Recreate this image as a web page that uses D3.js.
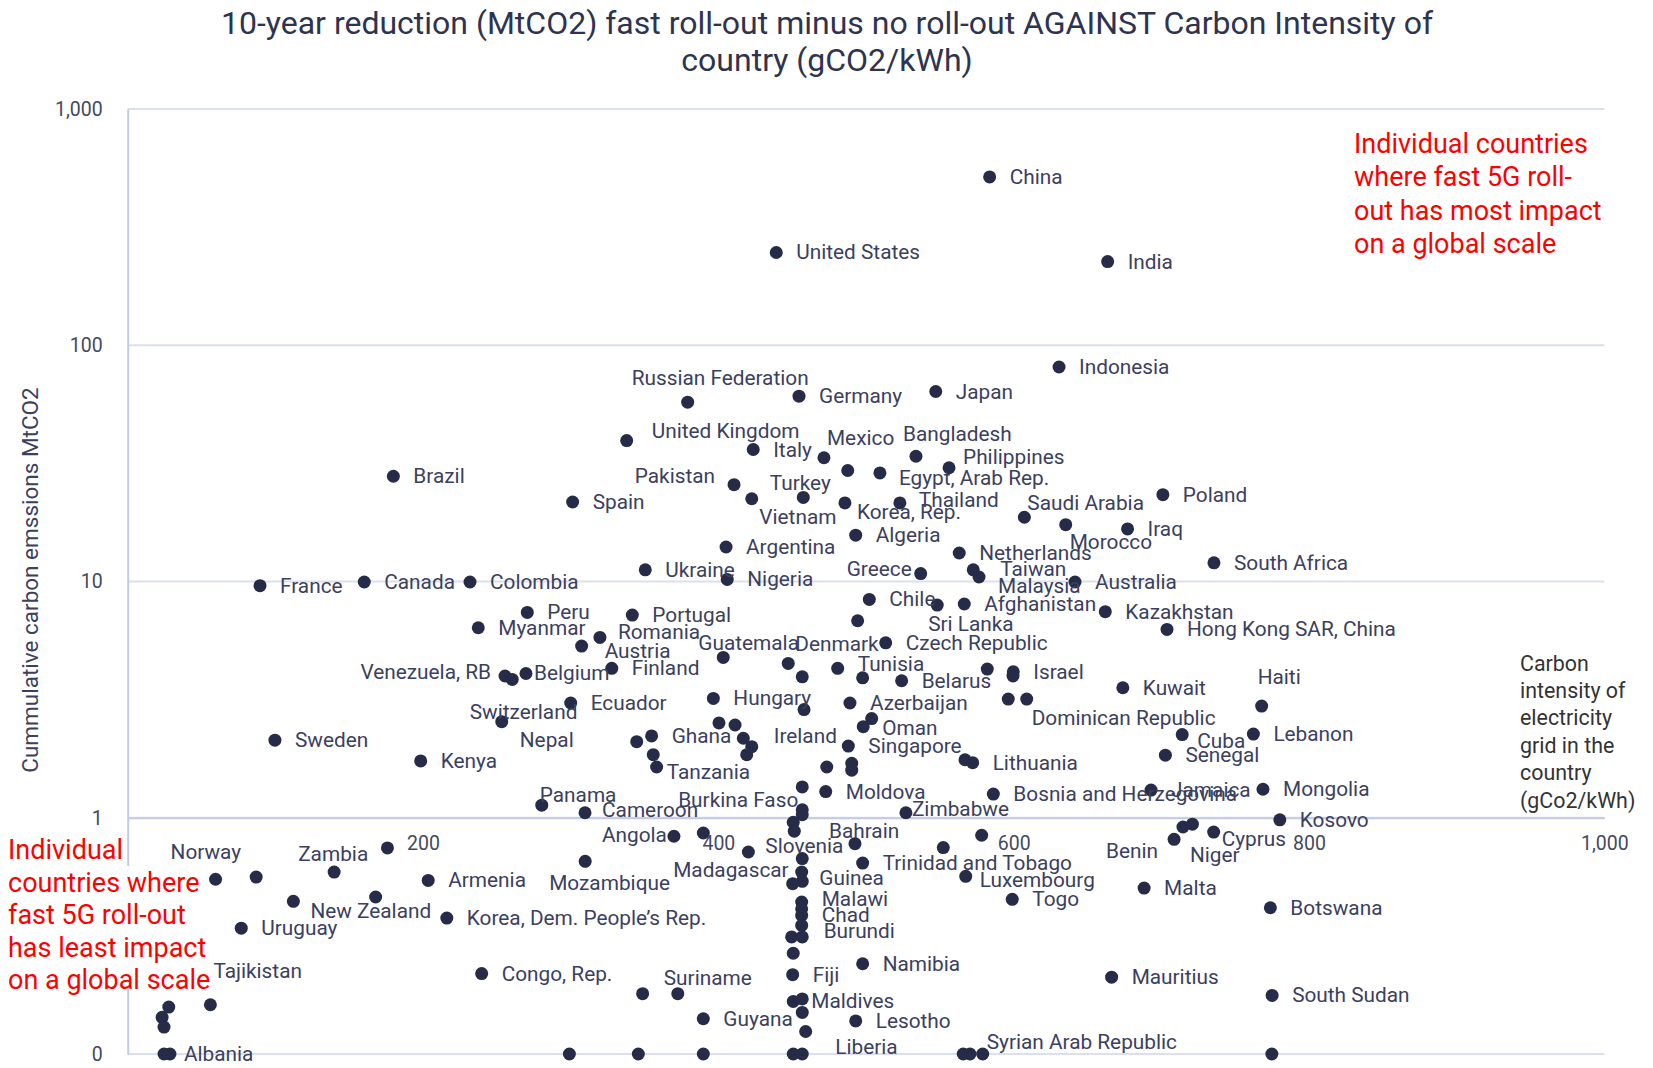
<!DOCTYPE html>
<html>
<head>
<meta charset="utf-8">
<script src="https://cdn.jsdelivr.net/npm/d3@7"></script>
<style>
  body { margin: 0; background: #fff; }
  svg { display: block; font-family: Roboto, "Noto Sans", sans-serif; }
</style>
</head>
<body>
<svg id="chart" width="1653" height="1068"></svg>
<script>
// country names ("" = point without a visible label)
const countries = [
  "China","United States","India","Indonesia","Russian Federation","Germany","Japan","United Kingdom","Italy","Mexico",
  "","Bangladesh","Philippines","Egypt, Arab Rep.","Pakistan","Turkey","Vietnam","Korea, Rep.","Thailand","Saudi Arabia",
  "Morocco","Iraq","Poland","South Africa","Algeria","Argentina","Netherlands","Ukraine","Nigeria","Greece",
  "Taiwan","Malaysia","Australia","Brazil","Spain","France","Canada","Colombia","Peru","Myanmar",
  "Romania","Austria","Finland","Venezuela, RB","","Belgium","Ecuador","Switzerland","Sweden","Kenya",
  "Panama","Cameroon","Portugal","Chile","Sri Lanka","Afghanistan","Denmark","Czech Republic","Guatemala","",
  "","Tunisia","","Belarus","","Israel","","Hungary","","Azerbaijan",
  "","Dominican Republic","","Oman","Ghana","Nepal","","Tanzania","","",
  "","Ireland","","Singapore","","","","","Lithuania","Burkina Faso",
  "Moldova","Bosnia and Herzegovina","","","Zimbabwe","","Kazakhstan","Hong Kong SAR, China","Kuwait","Haiti",
  "Cuba","Lebanon","Senegal","Jamaica","Mongolia","Kosovo","Niger","","Cyprus","Benin",
  "Malta","Botswana","Mauritius","South Sudan","","Norway","","Zambia","","Armenia",
  "Mozambique","New Zealand","","Korea, Dem. People\u2019s Rep.","Uruguay","Tajikistan","","","","",
  "Albania","Congo, Rep.","","Angola","","Slovenia","","","Madagascar","Guinea",
  "","Malawi","","Chad","Burundi","","","","Fiji","",
  "Maldives","","","","Liberia","Guyana","","Suriname","","",
  "Lesotho","Namibia","Bahrain","Trinidad and Tobago","","","Luxembourg","Togo","","",
  "Syrian Arab Republic"
];

// carbon intensity of the grid, gCO2/kWh
const intensity = [
  583.7,439.2,663.6,630.7,379.2,454.6,547.2,337.9,423.6,471.5,
  487.6,533.8,556.2,509.4,410.6,422.6,457.5,485.7,522.9,607.2,
  635.2,677.1,701.0,735.6,493.0,405.2,563.1,350.5,406.0,537.0,
  572.6,576.5,641.5,179.9,301.3,89.6,160.2,231.8,270.6,237.4,
  319.8,307.4,327.8,255.5,260.4,269.7,300.0,253.3,99.7,198.4,
  280.4,309.7,341.7,502.2,548.2,566.5,494.3,513.3,403.3,447.3,
  456.8,480.8,497.7,524.1,582.1,599.7,599.5,396.6,458.0,489.1,
  596.3,608.8,503.8,498.1,354.8,344.7,355.9,358.2,400.4,411.3,
  416.9,422.6,419.2,488.0,473.4,490.3,490.3,567.0,572.2,456.8,
  472.7,586.2,456.8,456.8,527.0,450.7,662.0,703.8,673.9,767.9,
  714.1,762.3,702.7,693.0,768.8,780.2,714.6,721.0,735.4,708.6,
  688.3,773.8,666.3,775.0,774.8,59.5,87.0,139.8,175.9,203.5,
  309.8,112.2,167.9,216.1,76.9,56.0,27.8,23.3,24.6,24.6,
  28.6,239.7,299.1,369.9,389.8,420.3,451.4,456.8,456.4,456.8,
  450.3,456.4,456.4,456.4,456.4,449.6,456.8,450.7,450.3,450.7,
  456.8,456.8,459.1,450.7,456.8,389.8,348.7,372.5,345.8,389.8,
  493.0,497.7,492.5,497.7,552.3,578.3,567.5,599.0,565.8,570.4,
  579.0
];

// cumulative carbon emissions reduction, MtCO2
const reduction = [
  516,247,226,80.9,57.4,60.9,63.7,39.5,36.2,33.4,
  29.5,33.9,30.3,28.8,25.7,22.4,22.7,21.5,21.5,18.7,
  17.4,16.7,23.3,12.0,15.7,14.0,13.2,11.2,10.2,10.8,
  11.2,10.45,9.95,27.9,21.7,9.6,9.95,9.95,7.4,6.37,
  5.8,5.33,4.29,3.98,3.85,4.08,3.06,2.55,2.13,1.74,
  1.13,1.05,7.21,8.4,7.95,8.03,6.82,5.5,4.77,4.5,
  3.95,4.29,3.91,3.8,4.26,4.15,3.98,3.2,2.87,3.06,
  3.18,3.18,2.63,2.43,2.22,2.1,1.85,1.64,2.52,2.47,
  2.17,2.0,1.85,2.01,1.64,1.70,1.59,1.76,1.71,1.35,
  1.29,1.26,1.08,1.03,1.05,0.957,7.45,6.27,3.55,2.97,
  2.25,2.26,1.84,1.31,1.32,0.98,0.914,0.939,0.87,0.81,
  0.504,0.416,0.2115,0.177,0.1,0.549,0.561,0.589,0.745,0.543,
  0.654,0.443,0.462,0.376,0.341,0.1616,0.158,0.143,0.130,0.1,
  0.1,0.219,0.1,0.835,0.862,0.716,0.877,0.672,0.589,0.538,
  0.526,0.44,0.412,0.386,0.35,0.313,0.313,0.267,0.2166,0.167,
  0.171,0.150,0.1245,0.1,0.1,0.141,0.18,0.18,0.1,0.1,
  0.138,0.241,0.777,0.643,0.748,0.843,0.565,0.4515,0.1,0.1,
  0.1
];

const xTicks = [200, 400, 600, 800, 1000];
const yTicks = [0.1, 1, 10, 100, 1000];
const yTickLabels = ["0", "1", "10", "100", "1,000"];

// where the hand-moved data labels sit: [dx, dy, anchor]
const labelPos = {
  "Russian Federation": [-56, -24], "United Kingdom": [25, -10], "Mexico": [3, -20],
  "Bangladesh": [-13, -22], "Philippines": [14, -11], "Egypt, Arab Rep.": [19, 5],
  "Pakistan": [-19, -9, "end"], "Turkey": [18, -16], "Vietnam": [-44, 20],
  "Korea, Rep.": [12, 9], "Thailand": [19, -3], "Saudi Arabia": [3, -14],
  "Morocco": [4, 17], "Greece": [-9, -5, "end"], "Taiwan": [27, -1], "Malaysia": [19, 9],
  "Venezuela, RB": [-14, -4, "end"], "Belgium": [8, 0], "Switzerland": [-32, -10],
  "Nepal": [-63, -2, "end"], "Panama": [-2, -10], "Cameroon": [17, -3],
  "Romania": [18, -5], "Austria": [23, 5], "Sri Lanka": [-9, 19],
  "Denmark": [21, 23, "end"], "Guatemala": [-25, -14], "Tunisia": [20, -4],
  "Dominican Republic": [5, 19], "Oman": [19, 1], "Tanzania": [10, 5],
  "Ireland": [22, -11], "Burkina Faso": [-4, 13, "end"], "Zimbabwe": [6, -4],
  "Haiti": [-4, -29], "Cuba": [15, 6], "Cyprus": [8, 7], "Benin": [-16, 12, "end"],
  "Niger": [7, 28], "Norway": [-45, -27], "Zambia": [-36, -18], "Mozambique": [-36, 22],
  "New Zealand": [17, 10], "Tajikistan": [3, -34], "Albania": [14, 0],
  "Angola": [-7, -1, "end"], "Slovenia": [17, -6], "Madagascar": [-13, -2, "end"],
  "Guinea": [17, -3], "Malawi": [20, -3], "Burundi": [22, 6], "Maldives": [9, 2],
  "Liberia": [33, -7], "Suriname": [-14, -16], "Bahrain": [-26, -13],
  "Luxembourg": [14, 4], "Syrian Arab Republic": [4, -12]
};

const points = countries.map((c, i) => ({ name: c, x: intensity[i], y: reduction[i] }));

const svg = d3.select("#chart");
const plotLeft = 127.7, plotRight = 1604.4, plotTop = 109, plotBottom = 1054;

const x = d3.scaleLinear().domain([0, 1000]).range([plotLeft, plotRight]);
const y = d3.scaleLog().domain([0.1, 1000]).range([plotBottom, plotTop]);

const axisColor = "#c4cae6", gridColor = "#dcdff0";
const textColor = "#3b4060";

// title
svg.append("text")
   .attr("text-anchor", "middle")
   .attr("font-size", "32px").attr("fill", "#2e3350")
   .selectAll("tspan")
   .data(["10-year reduction (MtCO2) fast roll-out minus no roll-out AGAINST Carbon Intensity of",
          "country (gCO2/kWh)"])
   .enter().append("tspan")
   .attr("x", 827).attr("y", (d, i) => 23 + i * 37)
   .attr("dominant-baseline", "central")
   .text(d => d);

// horizontal gridlines
svg.append("g").selectAll("line")
   .data(yTicks)
   .enter().append("line")
   .attr("x1", plotLeft).attr("x2", plotRight)
   .attr("y1", d => y(d)).attr("y2", d => y(d))
   .attr("stroke", gridColor).attr("stroke-width", 2);

// y axis
const yAxis = svg.append("g")
   .attr("transform", "translate(" + plotLeft + ",0)")
   .call(d3.axisLeft(y).tickValues(yTicks).tickFormat((d, i) => yTickLabels[i]).tickSize(0).tickPadding(25));
yAxis.select(".domain").attr("stroke", axisColor).attr("stroke-width", 2);
yAxis.selectAll("text").attr("font-size", "19.5px").attr("fill", "#444a5e").attr("font-family", "Roboto");

// x axis crosses at 1
const xAxis = svg.append("g")
   .attr("transform", "translate(0," + y(1) + ")")
   .call(d3.axisBottom(x).tickValues(xTicks).tickFormat(d3.format(",")).tickSize(0).tickPadding(18));
xAxis.select(".domain").attr("stroke", axisColor).attr("stroke-width", 2);
xAxis.selectAll("text").attr("font-size", "19.5px").attr("fill", "#444a5e").attr("font-family", "Roboto");

// y axis title
svg.append("text")
   .attr("transform", "translate(30,580) rotate(-90)")
   .attr("text-anchor", "middle").attr("dominant-baseline", "central")
   .attr("font-size", "22.5px").attr("fill", textColor)
   .text("Cummulative carbon emssions MtCO2");

// x axis title on the right
svg.append("text")
   .attr("font-size", "21.4px").attr("fill", "#333")
   .selectAll("tspan")
   .data(["Carbon", "intensity of", "electricity", "grid in the", "country", "(gCo2/kWh)"])
   .enter().append("tspan")
   .attr("x", 1520).attr("y", (d, i) => 663 + i * 27.4)
   .attr("dominant-baseline", "central")
   .text(d => d);

// annotation boxes
svg.append("rect").attr("x", 0).attr("y", 866).attr("width", 216).attr("height", 122).attr("fill", "#fff");
svg.append("text")
   .attr("font-size", "27px").attr("fill", "#ff0000")
   .selectAll("tspan")
   .data(["Individual", "countries where", "fast 5G roll-out", "has least impact", "on a global scale"])
   .enter().append("tspan")
   .attr("x", 8).attr("y", (d, i) => 850 + i * 32.5)
   .attr("dominant-baseline", "central")
   .text(d => d);

svg.append("text")
   .attr("font-size", "27px").attr("fill", "#ff0000")
   .selectAll("tspan")
   .data(["Individual countries", "where fast 5G roll-", "out has most impact", "on a global scale"])
   .enter().append("tspan")
   .attr("x", 1354).attr("y", (d, i) => 144 + i * 33.3)
   .attr("dominant-baseline", "central")
   .text(d => d);

// points
svg.append("g").selectAll("circle")
   .data(points)
   .enter().append("circle")
   .attr("cx", d => x(d.x))
   .attr("cy", d => y(d.y))
   .attr("r", 6.5)
   .attr("fill", "#262b48");

// data labels
svg.append("g").selectAll("text")
   .data(points.filter(d => d.name !== ""))
   .enter().append("text")
   .attr("x", d => x(d.x) + (labelPos[d.name] ? labelPos[d.name][0] : 20))
   .attr("y", d => y(d.y) + (labelPos[d.name] ? labelPos[d.name][1] : 0))
   .attr("text-anchor", d => (labelPos[d.name] && labelPos[d.name][2]) || "start")
   .attr("dominant-baseline", "central")
   .attr("font-size", "20.8px")
   .attr("fill", textColor)
   .text(d => d.name);
</script>
</body>
</html>
